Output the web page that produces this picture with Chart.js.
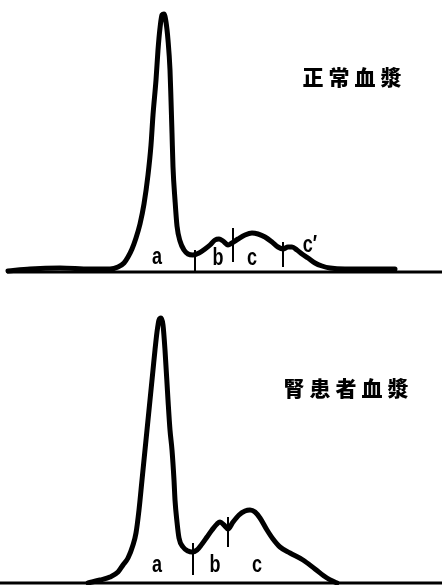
<!DOCTYPE html>
<html>
<head>
<meta charset="utf-8">
<script src="https://cdn.jsdelivr.net/npm/chart.js@4"></script>
<style>
  html, body { margin: 0; padding: 0; background: #fff; }
  canvas { display: block; }
</style>
</head>
<body>
<canvas id="chart-normal" width="442" height="290"></canvas>
<canvas id="chart-patient" width="442" height="295"></canvas>
<script>
// densitometer traces: position along strip, height above baseline
const normalPos = [8, 30, 60, 90, 110, 118, 124, 128, 132, 136, 140, 144, 148, 151, 153, 156, 158, 160, 162, 164, 166, 168, 170, 171, 172, 173, 175, 177, 180, 184, 188, 193, 199, 205, 210, 215, 219, 223, 228, 232, 238, 245, 252, 258, 265, 272, 278, 283, 288, 292, 297, 302, 308, 315, 322, 330, 345, 370, 395];
const normalHeight = [1, 3, 4, 3, 3, 5, 9, 15, 23, 34, 48, 68, 97, 127, 157, 192, 222, 244, 257, 258, 250, 232, 202, 172, 139, 105, 72, 46, 31, 22, 18, 17, 19, 23, 27, 32, 33, 31, 27, 29, 33, 37, 39, 38, 35, 30, 25, 23, 25, 25, 22, 18, 14, 9, 6, 4, 3, 3, 3];

const patientPos = [88, 100, 110, 118, 123, 128, 133, 136, 139, 142, 145, 148, 150, 153, 155, 157, 159, 161, 163, 165, 168, 170, 172, 174, 175, 177, 179, 183, 188, 192, 197, 202, 207, 212, 217, 220, 224, 228, 233, 239, 245, 250, 255, 260, 267, 273, 280, 290, 303, 315, 327, 337];
const patientHeight = [0, 3, 6, 11, 18, 25, 38, 50, 73, 103, 133, 163, 183, 213, 233, 251, 263, 265, 258, 233, 183, 153, 133, 103, 83, 61, 45, 36, 32, 31, 33, 39, 46, 53, 59, 61, 58, 54, 61, 68, 72, 73, 71, 65, 53, 44, 36, 30, 23, 14, 5, 0];

// fraction cut marks
const normalCutPos = [195, 233, 283];
const normalCutLow = [-1, 10, 5];
const normalCutHigh = [22, 44, 30];
const patientCutPos = [193, 228];
const patientCutLow = [8, 36];
const patientCutHigh = [40, 66];

// fraction labels
const normalLabels = ["a", "b", "c", "c\u2032"];
const normalLabelPos = [157, 218, 252, 310];
const normalLabelHeight = [15, 14, 14, 27];
const patientLabels = ["a", "b", "c"];
const patientLabelPos = [157, 215, 257];
const patientLabelHeight = [18, 18, 18];

const normalTitle = "正常血漿";
const patientTitle = "腎患者血漿";

function toPoints(xs, ys) {
  return xs.map((x, i) => ({ x: x, y: ys[i] }));
}

const textPlugin = {
  id: 'textPlugin',
  afterDatasetsDraw(chart, args, opts) {
    const ctx = chart.ctx;
    const sx = chart.scales.x, sy = chart.scales.y;
    ctx.save();
    ctx.fillStyle = '#000';
    ctx.textAlign = 'center';
    ctx.textBaseline = 'middle';
    ctx.font = 'bold 24px "Liberation Sans", Arial, sans-serif';
    opts.labels.forEach((t, i) => {
      const px = sx.getPixelForValue(opts.labelPos[i]);
      const py = sy.getPixelForValue(opts.labelHeight[i]);
      ctx.save();
      ctx.translate(px, py);
      ctx.scale(0.75, 1);
      ctx.fillText(t, 0, 0);
      ctx.restore();
    });
    ctx.font = '900 21px "Noto Sans CJK JP", sans-serif';
    const chars = Array.from(opts.title);
    chars.forEach((ch, i) => {
      const px = sx.getPixelForValue(opts.titlePos + i * 26);
      const py = sy.getPixelForValue(opts.titleHeight);
      ctx.fillText(ch, px, py);
    });
    ctx.restore();
  }
};

function makeChart(id, pos, heights, cutPos, cutLow, cutHigh, yMin, yMax, baseFrom, textOpts) {
  const datasets = [{
    data: toPoints([baseFrom, 442], [0, 0]),
    borderColor: '#000',
    borderWidth: 3,
    tension: 0
  }, {
    data: toPoints(pos, heights),
    borderColor: '#000',
    borderWidth: 5,
    cubicInterpolationMode: 'monotone',
    borderJoinStyle: 'round',
    borderCapStyle: 'round'
  }];
  cutPos.forEach((x, i) => {
    datasets.push({
      data: toPoints([x, x], [cutLow[i], cutHigh[i]]),
      borderColor: '#000',
      borderWidth: 2,
      tension: 0
    });
  });
  return new Chart(document.getElementById(id), {
    type: 'line',
    data: { datasets: datasets },
    options: {
      responsive: false,
      animation: false,
      layout: { padding: 0 },
      elements: { point: { radius: 0 } },
      plugins: {
        legend: { display: false },
        tooltip: { enabled: false },
        textPlugin: textOpts
      },
      scales: {
        x: { type: 'linear', min: 0, max: 442, display: false },
        y: { min: yMin, max: yMax, display: false }
      }
    },
    plugins: [textPlugin]
  });
}

makeChart('chart-normal', normalPos, normalHeight, normalCutPos, normalCutLow, normalCutHigh, -18, 272, 7, {
  labels: normalLabels, labelPos: normalLabelPos, labelHeight: normalLabelHeight,
  title: normalTitle, titlePos: 313, titleHeight: 195
});
makeChart('chart-patient', patientPos, patientHeight, patientCutPos, patientCutLow, patientCutHigh, -2, 293, 0, {
  labels: patientLabels, labelPos: patientLabelPos, labelHeight: patientLabelHeight,
  title: patientTitle, titlePos: 294, titleHeight: 195
});
</script>
</body>
</html>
